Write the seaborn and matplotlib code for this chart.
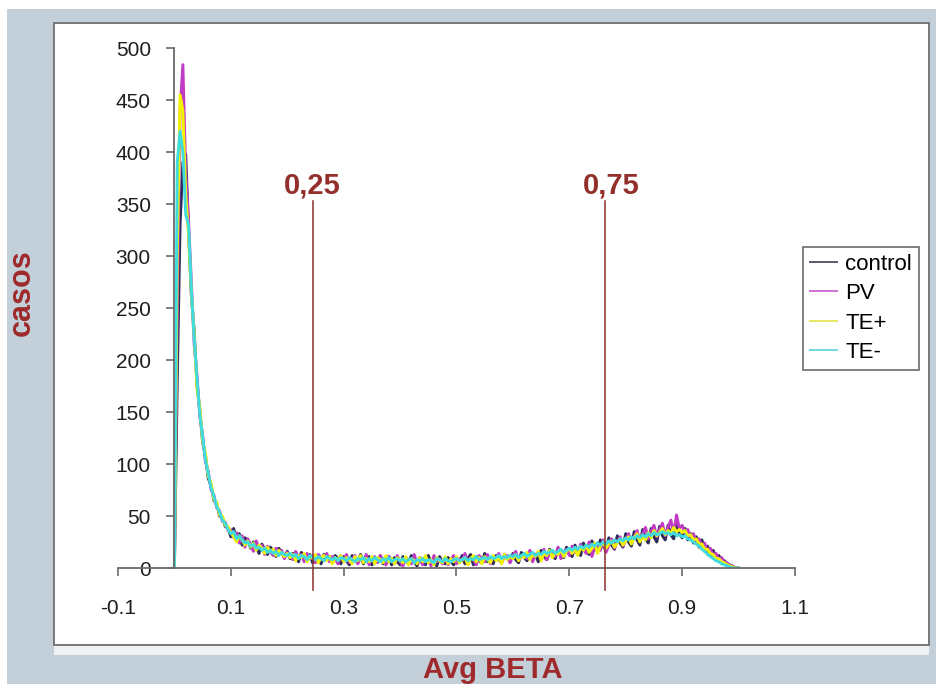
import numpy as np
import pandas as pd
import matplotlib
matplotlib.use("Agg")
import matplotlib.pyplot as plt
from matplotlib.patches import Rectangle
from matplotlib.lines import Line2D
import seaborn as sns

# ---------------- data (counts per Avg BETA bin of width 0.005, from 0.000 to 1.000) ----------------
groups = ["control", "PV", "TE+", "TE-"]
bin_width = 0.005

control = [
    0, 180, 330, 390, 398, 325, 262, 228, 176, 152, 121, 108, 86, 80, 65, 62, 50, 49, 40, 39,
    30, 38, 26, 33, 22, 29, 27, 19, 25, 21, 14, 23, 18, 13, 20, 17, 11, 19, 15, 10,
    16, 9, 14, 11, 6, 15, 12, 7, 13, 5, 12, 9, 4, 13, 8, 11, 5, 12, 9, 4,
    11, 7, 3, 12, 8, 5, 13, 4, 9, 11, 3, 10, 6, 12, 4, 8, 11, 3, 10, 6,
    3, 11, 7, 4, 12, 6, 2, 10, 8, 3, 12, 5, 9, 2, 11, 6, 4, 10, 7, 3,
    10, 5, 12, 4, 9, 13, 3, 11, 7, 5, 14, 6, 10, 4, 12, 8, 5, 13, 9, 6,
    14, 8, 5, 15, 10, 7, 16, 9, 13, 6, 17, 11, 8, 18, 12, 9, 19, 13, 10, 20,
    14, 11, 22, 15, 12, 24, 17, 13, 26, 19, 16, 27, 21, 17, 29, 22, 18, 31, 24, 20,
    33, 25, 21, 35, 27, 22, 37, 28, 24, 38, 30, 25, 40, 31, 27, 41, 32, 28, 42, 33,
    29, 38, 27, 33, 24, 30, 20, 27, 16, 21, 12, 17, 9, 12, 6, 7, 3, 3, 1, 0,
    0,
]
pv = [
    0, 250, 440, 484, 380, 335, 275, 215, 185, 146, 128, 102, 93, 75, 70, 58, 55, 45, 44, 36,
    37, 29, 34, 24, 31, 20, 28, 23, 16, 26, 19, 22, 13, 21, 16, 12, 19, 14, 17, 9,
    15, 12, 8, 16, 10, 13, 6, 14, 9, 12, 5, 13, 10, 7, 14, 6, 11, 9, 4, 12,
    8, 13, 5, 9, 12, 4, 10, 7, 13, 3, 9, 11, 5, 12, 7, 3, 11, 8, 4, 12,
    6, 2, 10, 8, 4, 13, 5, 9, 3, 11, 7, 2, 12, 6, 9, 4, 10, 3, 8, 12,
    4, 9, 7, 14, 5, 10, 8, 3, 12, 9, 6, 13, 4, 11, 9, 14, 6, 10, 12, 5,
    12, 16, 7, 11, 14, 9, 17, 6, 13, 15, 10, 18, 8, 14, 16, 11, 20, 9, 15, 18,
    12, 21, 16, 13, 23, 18, 14, 25, 11, 20, 24, 17, 27, 15, 22, 28, 19, 25, 30, 21,
    27, 33, 24, 30, 36, 26, 33, 39, 28, 35, 41, 30, 37, 43, 31, 39, 46, 33, 51, 38,
    41, 34, 37, 29, 33, 25, 28, 21, 24, 16, 19, 12, 14, 8, 10, 5, 5, 2, 2, 0,
    0,
]
te_pos = [
    0, 300, 455, 440, 360, 320, 265, 225, 172, 155, 122, 110, 88, 82, 66, 63, 51, 50, 41, 40,
    34, 30, 25, 31, 27, 22, 26, 20, 24, 17, 22, 19, 14, 20, 16, 18, 12, 17, 14, 11,
    14, 10, 13, 7, 12, 10, 14, 6, 11, 9, 13, 5, 10, 12, 7, 11, 4, 10, 8, 12,
    6, 10, 8, 4, 11, 7, 12, 5, 9, 6, 11, 4, 10, 8, 5, 12, 6, 9, 4, 10,
    8, 5, 11, 3, 9, 7, 4, 10, 6, 12, 5, 8, 3, 10, 7, 5, 11, 4, 9, 6,
    11, 5, 8, 10, 3, 9, 12, 6, 10, 4, 11, 8, 5, 12, 7, 10, 4, 13, 8, 11,
    9, 13, 7, 12, 10, 15, 8, 13, 11, 16, 7, 14, 12, 17, 10, 15, 13, 18, 11, 16,
    19, 14, 18, 12, 20, 17, 22, 15, 19, 24, 14, 21, 25, 19, 23, 26, 20, 24, 28, 22,
    26, 30, 23, 29, 33, 25, 31, 27, 34, 29, 36, 31, 34, 38, 32, 36, 33, 39, 35, 37,
    34, 36, 31, 32, 27, 28, 23, 23, 18, 18, 14, 13, 9, 9, 6, 5, 3, 2, 1, 0,
    0,
]
te_neg = [
    0, 390, 420, 400, 340, 330, 268, 222, 182, 148, 126, 104, 91, 77, 69, 59, 54, 46, 43, 37,
    33, 35, 28, 31, 27, 24, 25, 21, 23, 19, 20, 17, 19, 15, 17, 14, 16, 12, 15, 13,
    12, 14, 11, 13, 9, 12, 11, 8, 12, 10, 8, 11, 9, 7, 11, 9, 8, 10, 7, 10,
    9, 7, 10, 8, 6, 9, 8, 10, 6, 9, 7, 10, 8, 6, 9, 7, 10, 6, 8, 9,
    7, 9, 6, 8, 9, 5, 8, 7, 9, 6, 8, 7, 5, 9, 8, 6, 9, 7, 6, 8,
    9, 7, 8, 10, 7, 9, 8, 11, 8, 9, 10, 8, 11, 9, 10, 12, 9, 11, 10, 12,
    11, 13, 10, 12, 14, 11, 13, 15, 12, 14, 13, 16, 14, 15, 17, 14, 16, 18, 15, 17,
    19, 17, 20, 18, 21, 19, 22, 20, 23, 21, 24, 22, 25, 23, 26, 24, 27, 25, 28, 26,
    29, 27, 30, 28, 31, 29, 32, 30, 33, 31, 34, 32, 33, 35, 33, 34, 32, 34, 31, 32,
    30, 31, 28, 27, 25, 23, 21, 18, 16, 13, 11, 9, 7, 6, 4, 3, 2, 1, 0, 0,
    0,
]

xticks = [-0.1, 0.1, 0.3, 0.5, 0.7, 0.9, 1.1]
xtick_labels = ["-0.1", "0.1", "0.3", "0.5", "0.7", "0.9", "1.1"]
yticks = [0, 50, 100, 150, 200, 250, 300, 350, 400, 450, 500]

# threshold markers drawn on the chart
threshold_pos = [0.245, 0.763]
threshold_labels = ["0,25", "0,75"]

# ---------------- build long table ----------------
series = {"control": control, "PV": pv, "TE+": te_pos, "TE-": te_neg}
frames = []
for g in groups:
    vals = series[g]
    xs = np.round(np.arange(len(vals)) * bin_width, 3)
    frames.append(pd.DataFrame({"beta": xs, "casos": vals, "grupo": g}))
df = pd.concat(frames, ignore_index=True)

palette = {"control": "#2a2b58", "PV": "#c03ac6", "TE+": "#f2f200", "TE-": "#3edcdf"}
legend_colors = {"control": "#5a5a68", "PV": "#d070d8", "TE+": "#e8e860", "TE-": "#70d8e0"}
label_red = "#9e2a2b"

plt.rcParams["font.family"] = ["Liberation Sans", "DejaVu Sans"]

W, H = 937, 684
fig = plt.figure(figsize=(W / 100, H / 100), dpi=100)
fig.patch.set_facecolor("#c3cfd9")

def px_rect(x0, y0, x1, y1, **kw):
    # pixel coords (top-left origin) -> figure rectangle
    fig.patches.append(Rectangle((x0 / W, 1 - y1 / H), (x1 - x0) / W, (y1 - y0) / H,
                                 transform=fig.transFigure, **kw))

px_rect(0, 0, W, 9, facecolor="white", edgecolor="none", zorder=-10)
px_rect(0, 0, 7, H, facecolor="white", edgecolor="none", zorder=-10)
px_rect(54, 645, 929, 655, facecolor="#eef2f5", edgecolor="none", zorder=-10)
px_rect(54, 23, 929, 645, facecolor="white", edgecolor="#6e6e6e", linewidth=1.3, zorder=-9)

ax = fig.add_axes([118 / W, (H - 568) / H, 677 / W, 520 / H])
ax.set_facecolor("none")
ax.set_zorder(2)

sns.lineplot(data=df, x="beta", y="casos", hue="grupo", hue_order=groups,
             palette=palette, linewidth=2.1, legend=False, ax=ax, estimator=None)

ax.set_xlim(-0.1, 1.1)
ax.set_ylim(0, 500)
ax.set_xticks(xticks)
ax.set_xticklabels(xtick_labels)
ax.set_yticks(yticks)
ax.set_xlabel("")
ax.set_ylabel("")

for s in ["top", "right"]:
    ax.spines[s].set_visible(False)
ax.spines["left"].set_position(("data", 0))
for s in ["left", "bottom"]:
    ax.spines[s].set_color("#6a6a6a")
    ax.spines[s].set_linewidth(1.3)

ax.tick_params(axis="x", direction="out", length=6, width=1.2, color="#6a6a6a",
               pad=16, labelsize=15, labelcolor="#1e1e1e")
ax.tick_params(axis="y", direction="out", length=6, width=1.2, color="#6a6a6a",
               pad=11, labelsize=15, labelcolor="#1e1e1e")

# threshold lines and labels
for xp, lab, dx in zip(threshold_pos, threshold_labels, [0.0, 0.011]):
    ax.plot([xp, xp], [-21, 353], color="#8b2e2e", linewidth=1.1, clip_on=False, zorder=5)
    ax.text(xp + dx, 360, lab, ha="center", va="baseline", fontsize=21, fontweight="bold",
            color="#93302c")

# legend
handles = [Line2D([0], [0], color=legend_colors[g], linewidth=1.4) for g in groups]
leg = fig.legend(handles, groups, loc="upper left", bbox_to_anchor=(803 / W, 1 - 247 / H),
                 bbox_transform=fig.transFigure, fontsize=16, frameon=True, fancybox=False,
                 handlelength=1.25, handletextpad=0.35, labelspacing=0.38, borderpad=0.3,
                 borderaxespad=0)
leg.set_zorder(5)
leg.get_frame().set_edgecolor("#555555")
leg.get_frame().set_linewidth(1.3)
leg.get_frame().set_facecolor("white")

# axis titles in the outer frame
fig.text(22 / W, 1 - 293 / H, "casos", rotation=90, ha="center", va="center",
         fontsize=22, fontweight="bold", color=label_red)
fig.text(493 / W, 1 - 678 / H, "Avg BETA", ha="center", va="baseline",
         fontsize=21, fontweight="bold", color=label_red)

fig.savefig("out.png", dpi=100, facecolor=fig.get_facecolor())
